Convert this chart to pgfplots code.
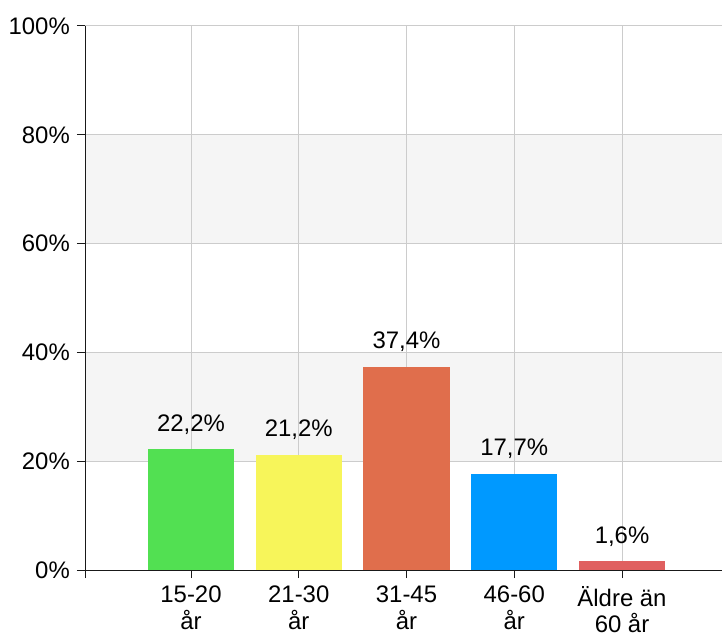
\documentclass[border=0pt]{standalone}
\usepackage{fontspec}
\setmainfont{Liberation Sans}
\usepackage{pgfplots}
\pgfplotsset{compat=1.18}
\definecolor{cgreen}{RGB}{82,224,82}
\definecolor{cyellow}{RGB}{247,245,90}
\definecolor{corange}{RGB}{224,110,76}
\definecolor{cblue}{RGB}{0,153,255}
\definecolor{cred}{RGB}{224,96,96}
\definecolor{gridgray}{RGB}{204,204,204}
\definecolor{bandgray}{RGB}{245,245,245}
\begin{document}
\fontsize{24}{26.5}\selectfont
\begin{tikzpicture}
\begin{axis}[
  set layers,
  at={(0,0)}, anchor=south west,
  scale only axis, width=637bp, height=544bp,
  xmin=0.016, xmax=5.928, ymin=0, ymax=100,
  axis x line*=bottom, axis y line*=left,
  axis line style={black!90, line width=1bp},
  xtick={1,2,3,4,5},
  xticklabels={{15-20\\år},{21-30\\år},{31-45\\år},{46-60\\år},{Äldre än\\60 år}},
  extra x ticks={0.016}, extra x tick labels={}, extra x tick style={grid=none},
  ytick={0,20,...,100},
  yticklabel={\pgfmathprintnumber{\tick}\%},
  /pgf/number format/assume math mode=true,
  grid=major, major grid style={color=gridgray, line width=1bp},
  tick align=outside, major tick length=8bp,
  tick style={black!90, line width=1bp},
  yticklabel style={inner sep=0pt, xshift=-7bp},
  xticklabel style={align=center, inner sep=0pt, anchor=north, yshift=-8bp},
  ybar, bar width=0.8, bar shift=0pt,
  nodes near coords={\pgfmathprintnumber[fixed,fixed zerofill,precision=1,use comma]{\pgfplotspointmeta}\%},
  every node near coord/.append style={anchor=base, inner sep=0pt, yshift=18bp, black},
]
\begin{pgfonlayer}{axis background}
\fill[bandgray] (rel axis cs:0,0.2) rectangle (rel axis cs:1,0.4);
\fill[bandgray] (rel axis cs:0,0.6) rectangle (rel axis cs:1,0.8);
\end{pgfonlayer}
\addplot[fill=cgreen, draw=none] coordinates {(1,22.2)};
\addplot[fill=cyellow, draw=none] coordinates {(2,21.2)};
\addplot[fill=corange, draw=none] coordinates {(3,37.4)};
\addplot[fill=cblue, draw=none] coordinates {(4,17.7)};
\addplot[fill=cred, draw=none] coordinates {(5,1.6)};
\end{axis}
\pgfresetboundingbox
\path[use as bounding box] (-85bp,-65bp) rectangle (637bp,570bp);
\end{tikzpicture}
\end{document}
